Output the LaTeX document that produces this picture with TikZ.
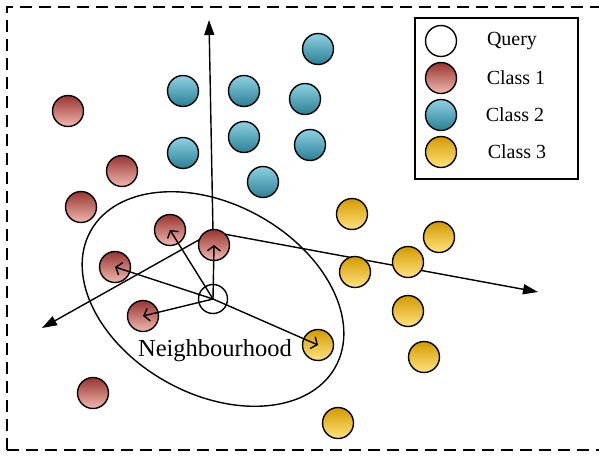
\documentclass[tikz,border=0pt]{standalone}
\usepackage{fontspec}
\setmainfont{Liberation Serif}
\usetikzlibrary{arrows.meta}

\definecolor{redtop}{HTML}{983530}
\definecolor{redmid}{HTML}{B8524C}
\definecolor{redbot}{HTML}{F0B8B0}
\definecolor{bluetop}{HTML}{8ED1E3}
\definecolor{bluemid}{HTML}{4CB0CA}
\definecolor{bluebot}{HTML}{2A7F94}
\definecolor{yeltop}{HTML}{D39A00}
\definecolor{yelmid}{HTML}{FABC00}
\definecolor{yelbot}{HTML}{FFE47E}

\begin{document}
\begin{tikzpicture}[x=1pt,y=-1pt,
  ball/.style={circle,draw,line width=1.4pt,minimum size=31pt,inner sep=0pt},
  classone/.style={ball,top color=redtop,middle color=redmid,bottom color=redbot},
  classtwo/.style={ball,top color=bluetop,middle color=bluemid,bottom color=bluebot},
  classthree/.style={ball,top color=yeltop,middle color=yelmid,bottom color=yelbot},
  query/.style={ball,fill=white,minimum size=29pt},
  axis/.style={line width=1.4pt,-{Triangle[length=15pt,width=10pt]}},
  nbarrow/.style={line width=1.4pt,-{Straight Barb[length=5pt,width=13pt,line width=1.4pt]}},
  lbl/.style={font=\fontsize{20}{22}\selectfont}]

\useasboundingbox (0,0) rectangle (599,456);

% ===== Cadre pointille =====
\draw[line width=1.4pt,dash pattern=on 12pt off 7pt] (7,450) -- (7,7) -- (606,7);
\draw[line width=1.4pt,dash pattern=on 12pt off 7pt] (7,450) -- (606,450);

% ===== Axes =====
\coordinate (o) at (213,232);
\coordinate (ytip) at (209,20);
\coordinate (ltip) at (42,328);
\coordinate (rtip) at (538,292);

\draw[axis] (o) -- (ytip);
\draw[axis] (o) -- (ltip);
\draw[axis] (o) -- (rtip);

% Voisinage
\draw[line width=1.4pt,rotate around={-29:(213,299)}] (213,299) ellipse [x radius=140pt,y radius=95pt];
\node[font=\fontsize{24.5}{26}\selectfont] (nb) at (215,351) {Neighbourhood};

% ===== Classe 1 =====
\node[classone] (r1) at (68,111) {};
\node[classone] (r2) at (122,171) {};
\node[classone] (r3) at (81,207) {};
\node[classone] (r4) at (170,230) {};
\node[classone] (r5) at (214,245) {};
\node[classone] (r6) at (115,267) {};
\node[classone] (r7) at (143,316) {};
\node[classone] (r8) at (93,393) {};

% ===== Classe 2 =====
\node[classtwo] (b1) at (318,49) {};
\node[classtwo] (b2) at (183,91) {};
\node[classtwo] (b3) at (244,91) {};
\node[classtwo] (b4) at (305,99) {};
\node[classtwo] (b5) at (244,137) {};
\node[classtwo] (b6) at (183,153) {};
\node[classtwo] (b7) at (310,145) {};
\node[classtwo] (b8) at (263,182) {};

% ===== Classe 3 =====
\node[classthree] (y1) at (352,214) {};
\node[classthree] (y2) at (439,237) {};
\node[classthree] (y3) at (408,262) {};
\node[classthree] (y4) at (355,272) {};
\node[classthree] (y5) at (408,311) {};
\node[classthree] (y6) at (424,357) {};
\node[classthree] (y7) at (318,345) {};
\node[classthree] (y8) at (338,423) {};

% ===== Requete et plus proches voisins =====
\node[query] (q) at (213,299) {};

\draw[nbarrow] (q.center) -- (r5.center);
\draw[nbarrow] (q.center) -- (r4.center);
\draw[nbarrow] (q.center) -- (r6.center);
\draw[nbarrow] (q.center) -- (r7.center);
\draw[nbarrow] (q.center) -- (y7.center);

% ===== Legende =====
\draw[line width=1.4pt,fill=white] (415,18) rectangle (578,179);
\node[query,minimum size=31pt] (lq) at (441,41) {};
\node[classone] (l1) at (441,78) {};
\node[classtwo] (l2) at (441,115) {};
\node[classthree] (l3) at (441,152) {};
\node[lbl] (tq) at (512,41) {Query};
\node[lbl] (t1) at (516,78) {Class 1};
\node[lbl] (t2) at (515,115) {Class 2};
\node[lbl] (t3) at (517,152) {Class 3};

\end{tikzpicture}
\end{document}
